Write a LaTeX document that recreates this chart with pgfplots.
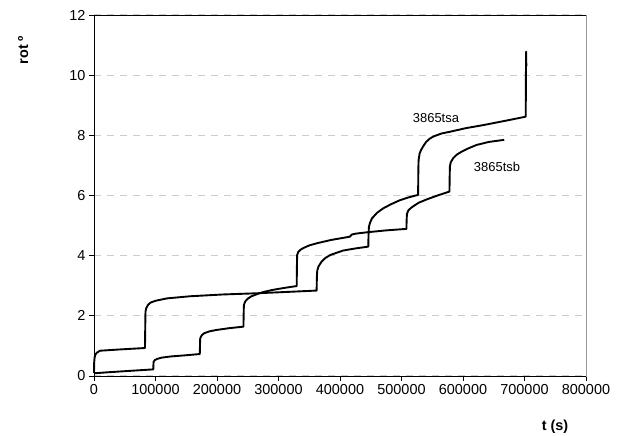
\documentclass[border=0pt]{standalone}
\usepackage{fontspec}
\setmainfont{Liberation Sans}
\usepackage{pgfplots}
\pgfplotsset{compat=1.18}
\begin{document}
\begin{tikzpicture}[x=1bp,y=1bp]
\path[use as bounding box] (0,0) rectangle (618,436);
\begin{axis}[
 at={(94bp,60bp)}, anchor=south west,
 scale only axis, width=492bp, height=361bp,
 xmin=0, xmax=800000, ymin=0, ymax=12,
 clip=false,
 xtick={0,100000,200000,300000,400000,500000,600000,700000,800000},
 ytick={0,2,4,6,8,10,12},
 scaled x ticks=false,
 /pgf/number format/1000 sep={},
 /pgf/number format/fixed,
 /pgf/number format/assume math mode=true,
 tick label style={font=\fontsize{14.5}{16}\selectfont, black},
 tick align=outside, xtick pos=bottom, ytick pos=left,
 major tick length=5bp,
 tick style={black, line width=0.8pt},
 axis line style={gray!80, line width=0.6pt},
 ymajorgrids,
 grid style={gray!40, dash pattern=on 7bp off 6bp, line width=1pt},
 xlabel={\textbf{t (s)}},
 xlabel style={at={(axis description cs:0.937,-0.141)}, anchor=center, font=\fontsize{14.5}{16}\selectfont},
 ylabel={\textbf{rot º}},
 ylabel style={at={(axis description cs:-0.144,0.903)}, anchor=center, font=\fontsize{14.5}{16}\selectfont},
]
% 3865tsa
\addplot[black, line width=1.9pt, line join=round, mark=none] coordinates {
(0,0.10) (300,0.45) (1000,0.62) (2500,0.72) (5000,0.78) (9760,0.84) (40000,0.88) (82900,0.93)
(83300,1.60) (83700,2.14) (85000,2.26) (88000,2.37) (92000,2.44) (100000,2.50) (118700,2.58)
(156000,2.65) (209800,2.71) (265000,2.75) (320000,2.80) (362000,2.84)
(362400,3.30) (363000,3.50) (365000,3.64) (370000,3.80) (376000,3.92) (384000,4.02) (395000,4.10)
(405000,4.17) (425000,4.24) (446000,4.30)
(446400,4.70) (447000,4.96) (449000,5.10) (452000,5.24) (460000,5.42) (470000,5.57) (483000,5.71)
(497000,5.84) (512000,5.94) (527000,6.02)
(527400,6.90) (527800,7.18) (529500,7.40) (532000,7.52) (535400,7.64) (540000,7.78) (546000,7.89)
(551700,7.96) (565000,8.06) (579000,8.12) (605000,8.24) (633000,8.34) (668000,8.48) (702000,8.62)
(702300,10.00) (702600,10.78) (703000,10.30)
};
% 3865tsb
\addplot[black, line width=1.9pt, line join=round, mark=none] coordinates {
(0,0.09) (20000,0.12) (50000,0.16) (96400,0.22)
(96700,0.40) (97000,0.48) (99000,0.53) (103000,0.57) (110000,0.61) (125000,0.65) (150000,0.69) (172000,0.73)
(172300,1.00) (172700,1.25) (175000,1.35) (179000,1.42) (187000,1.48) (199000,1.53) (220000,1.59) (243000,1.64)
(243300,2.00) (243700,2.36) (246000,2.48) (250000,2.57) (256000,2.65) (265000,2.72) (275000,2.79)
(290000,2.86) (310000,2.93) (329600,2.99)
(329900,3.60) (330300,4.02) (332000,4.12) (336000,4.20) (340000,4.25) (350000,4.34) (362000,4.41)
(385000,4.52) (416000,4.63) (419000,4.70) (425000,4.73) (445000,4.78) (475000,4.84) (508000,4.89)
(508300,5.15) (508800,5.38) (511000,5.50) (515000,5.58) (519000,5.64) (528000,5.76) (541000,5.87)
(560000,6.01) (578000,6.13)
(578300,6.60) (578700,6.96) (580000,7.10) (584000,7.24) (590000,7.36) (598000,7.46) (608000,7.56)
(622000,7.68) (642000,7.78) (667000,7.85)
};
\draw[black, line width=0.9pt] (rel axis cs:1,1) -- (rel axis cs:0,1) -- (rel axis cs:0,0) -- (rel axis cs:1,0);
\node[font=\fontsize{13}{15}\selectfont] at (axis cs:556000,8.58) {3865tsa};
\node[font=\fontsize{13}{15}\selectfont] at (axis cs:655300,6.95) {3865tsb};
\end{axis}
\end{tikzpicture}
\end{document}
